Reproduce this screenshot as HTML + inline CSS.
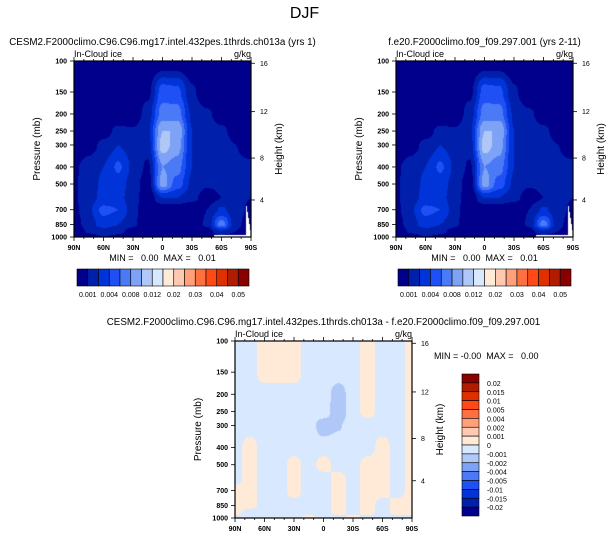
<!DOCTYPE html>
<html><head><meta charset="utf-8">
<style>
html,body{margin:0;padding:0;background:#fff;}
#wrap{position:relative;width:609px;height:538px;overflow:hidden;font-family:"Liberation Sans",sans-serif;}
canvas{position:absolute;}
svg{position:absolute;left:0;top:0;}
text{white-space:pre;}
</style></head>
<body>
<div id="wrap">
<canvas id="c1" width="177" height="176" style="left:74px;top:61px"></canvas>
<canvas id="c2" width="177" height="176" style="left:396px;top:61px"></canvas>
<canvas id="c3" width="177" height="177" style="left:235px;top:341px"></canvas>
<svg id="svg" width="609" height="538"></svg>
</div>
<script>
// ---- data ----
const lats = [90,75,60,45,30,15,0,-15,-30,-45,-60,-75,-90];
const levels = [100,150,200,250,300,400,500,600,700,850,925,1000];
const fieldA = [
 [0,0,0,0,0,0,0.2,0.2,0,0,0,0,0],
 [0,0,0,0,0,0.7,3.5,3.3,1.2,0,0,0,0],
 [0,0,0,0,0.2,1.5,4.5,4.5,1.8,1.2,0.5,0,0],
 [0,0,0.5,1.3,1.1,1.8,6,6,2,1.5,1.2,0.6,0],
 [0,0.5,1.3,2,1.5,1.5,6.5,5.5,2,1.5,1.3,1,0.3],
 [0.8,1.5,2,3.2,1.8,0.8,5,4.5,2,1.5,1.3,1.2,1.3],
 [0.9,1.5,2.2,2.5,1.6,0.3,5.5,3.5,1.8,1.1,1.2,1.2,1.3],
 [0.9,1.6,2.3,2.3,1.5,0.2,2,2,1.3,0.5,1,1.2,1],
 [0.7,1.8,3.3,3,1.4,0,0,0,0,1,2.2,1.3,0.8],
 [0.5,1.5,2.5,2,1.2,0,0,0,0,1.2,4.5,1.2,0.5],
 [0,1.2,1.5,1.3,0.6,0,0,0,0,0.5,2,1,0],
 [0,0.6,1,0.8,0.2,0,0,0,0,0,0.5,0.3,0]
];
const fieldB = fieldA.map(r=>r.slice());
const fieldDiff = [
 [-1,-1,0,0,0,-1,-1,-1,-1,0,-1,-1,0],
 [-1,-1,0,0,0,-1,-1,-1,-1,0,-1,-1,0],
 [-1,-1,-1,-1,-1,-1,-1,-2,-1,0,-1,-1,0],
 [-1,-1,-1,-1,-1,-1,-1,-2.2,-1,0,-1,-1,0],
 [-1,-1,-1,-1,-1,-1,-2,-1.6,-1,-1,-1,-1,0],
 [-1,0,-1,-1,-1,-1,-1,-1,-1,-1,0,-1,0],
 [-1,0,-1,-1,0,-1,0,-1,-1,0,0,-1,0],
 [-1,0,-1,-1,0,-1,-1,0,-1,0,0,-1,0],
 [0,0,-1,-1,0,-1,-1,0,-1,0,0,-1,0],
 [0,0,-1,-1,-1,-1,-1,0,-1,0,-1,0,0],
 [0,-1,-1,-1,-1,-1,-1,0,-1,0,-1,0,0],
 [-1,-1,-1,-1,-1,0,-1,-1,0,-1,-1,-1,-1]
];
const colors = ["#00008c","#0020ac","#0034d8","#1e50f5","#4a7af5","#7ea2f5","#b0c8f8","#d8e8ff","#ffead8","#ffc8b0","#ffa07a","#ff7040","#ff4a18","#e03000","#b01c00","#880000"];
const topCbLabels = ["0.001","0.004","0.008","0.012","0.02","0.03","0.04","0.05"];
const diffCbLabels = ["0.02","0.015","0.01","0.005","0.004","0.002","0.001","0","-0.001","-0.002","-0.004","-0.005","-0.01","-0.015","-0.02"];
const pTicks = [100,150,200,250,300,400,500,700,850,1000];
const hTicks = [4,8,12,16];
const hTickP = [616,356,194,103];
const xTickLats = [90,60,30,0,-30,-60,-90];
const xTickLabels = ["90N","60N","30N","0","30S","60S","90S"];

// ---- helpers ----
const NS="http://www.w3.org/2000/svg";
const svg=document.getElementById('svg');
function el(tag,attrs,parent){const e=document.createElementNS(NS,tag);for(const k in attrs)e.setAttribute(k,attrs[k]);(parent||svg).appendChild(e);return e;}
function txt(x,y,s,size,anchor,extra){const t=el('text',Object.assign({x:x,y:y,'font-size':size,'text-anchor':anchor||'middle','font-family':'Liberation Sans, sans-serif',fill:'#000'},extra||{}));t.textContent=s;return t;}
function xs(ox,w){return lat=>ox+(90-lat)/180*w;}
function ys(oy,h){return p=>oy+(Math.log10(p)-2)*h;}

function smooth(t){return t*t*(3-2*t);}
function sample(grid,fx,fy){
  const i0=Math.max(0,Math.min(lats.length-2,Math.floor(fx))),j0=Math.max(0,Math.min(levels.length-2,Math.floor(fy)));
  const tx=smooth(Math.min(1,Math.max(0,fx-i0))),ty=smooth(Math.min(1,Math.max(0,fy-j0)));
  const a=grid[j0][i0],b=grid[j0][i0+1],c=grid[j0+1][i0],d=grid[j0+1][i0+1];
  return (a*(1-tx)+b*tx)*(1-ty)+(c*(1-tx)+d*tx)*ty;
}
function levelIndex(p){const lp=Math.log10(p);for(let j=0;j<levels.length-1;j++){const a=Math.log10(levels[j]),b=Math.log10(levels[j+1]);if(lp<=b)return j+(lp-a)/(b-a);}return levels.length-1;}
function hex(c){return [parseInt(c.substr(1,2),16),parseInt(c.substr(3,2),16),parseInt(c.substr(5,2),16)];}
function fillCanvas(id,grid,colorOf,missing){
  const cv=document.getElementById(id),ctx=cv.getContext('2d'),W=cv.width,H=cv.height;
  const img=ctx.createImageData(W,H);
  for(let y=0;y<H;y++){const p=Math.pow(10,2+(y+0.5)/H);const fy=levelIndex(p);
    for(let x=0;x<W;x++){const lat=90-(x+0.5)/W*180;const fx=(90-lat)/15;
      let c=hex(colorOf(sample(grid,fx,fy)));
      if(missing&&((x>W-6&&y>H-(W-x)*6-2)||(y>H-3&&x>W-38))) c=[255,255,255];
      const k=(y*W+x)*4;img.data[k]=c[0];img.data[k+1]=c[1];img.data[k+2]=c[2];img.data[k+3]=255;}}
  ctx.putImageData(img,0,0);
}
function frame(ox,oy,w,h,name,titleStr,mm){
  const X=xs(ox,w),Y=ys(oy,h);
  const g=el('g',{});
  
  
  el('rect',{x:ox,y:oy,width:w,height:h,fill:'none',stroke:'#000','stroke-width':1.2},g);
  pTicks.forEach(p=>{const y=Y(p);el('line',{x1:ox-4,y1:y,x2:ox,y2:y,stroke:'#000','stroke-width':0.8},g);
    const t=txt(ox-7,y+2.5,String(p),7,'end',{'font-weight':'bold'});g.appendChild(t);});
  hTicks.forEach((hk,i)=>{const y=Y(hTickP[i]);el('line',{x1:ox+w,y1:y,x2:ox+w+4,y2:y,stroke:'#000','stroke-width':0.8},g);
    const t=txt(ox+w+9,y+2.5,String(hk),7,'start');g.appendChild(t);});
  for(let lat=90;lat>=-90;lat-=10){const x=X(lat);const big=lat%30===0;
    el('line',{x1:x,y1:oy+h,x2:x,y2:oy+h+(big?4:2),stroke:'#000','stroke-width':0.8},g);
    el('line',{x1:x,y1:oy,x2:x,y2:oy-(big?4:2),stroke:'#000','stroke-width':0.8},g);}
  xTickLats.forEach((lat,i)=>{const t=txt(X(lat),oy+h+13,xTickLabels[i],7,'middle',{'font-weight':'bold'});g.appendChild(t);});
  const yl=txt(0,0,'Pressure (mb)',10,'middle',{transform:`translate(${ox-34},${oy+h/2}) rotate(-90)`});
  const hl=txt(0,0,'Height (km)',10,'middle',{transform:`translate(${ox+w+31},${oy+h/2}) rotate(-90)`});
  const l=txt(ox,oy-4,'In-Cloud ice',9,'start');
  const u=txt(ox+w,oy-4,'g/kg',9,'end');
  const tt=txt(ox+w/2,oy-16,titleStr,9.8,'middle');
  if(mm){const m=txt(ox+w/2,oy+h+24,'MIN =   0.00  MAX =   0.01',9,'middle');}
}
function hCbar(x0,y0,w,h,name){
  const g=el('g',{});
  const bw=w/colors.length;
  colors.forEach((c,i)=>{el('rect',{x:x0+i*bw,y:y0,width:bw,height:h,fill:c,stroke:'#000','stroke-width':0.6},g);});
  topCbLabels.forEach((s,i)=>{const t=txt(x0+(2*i+1)*bw,y0+h+11,s,7,'middle');g.appendChild(t);});
}

// ---- draw ----
const topColor=v=>colors[Math.max(0,Math.min(7,Math.floor(v)))];
const diffColor=v=>v>=-0.5?colors[8]:(v>=-1.5?colors[7]:colors[6]);
fillCanvas('c1',fieldA,topColor,true);
fillCanvas('c2',fieldB,topColor,true);
fillCanvas('c3',fieldDiff,diffColor,false);

const t=txt(304.5,18,'DJF',16,'middle');
frame(74,61,177,176,'panel-control','CESM2.F2000climo.C96.C96.mg17.intel.432pes.1thrds.ch013a (yrs 1)',true);
frame(396,61,177,176,'panel-test','f.e20.F2000climo.f09_f09.297.001 (yrs 2-11)',true);
frame(235,341,177,177,'panel-diff','CESM2.F2000climo.C96.C96.mg17.intel.432pes.1thrds.ch013a - f.e20.F2000climo.f09_f09.297.001',false);
hCbar(77,269,172,17,'colorbar-control');
hCbar(398,269,173,17,'colorbar-test');
const dm=txt(434,359,'MIN = -0.00  MAX =   0.00',9,'start');

(function(){const g=el('g',{});
 const x0=462,y0=374,w=17,H=142,bh=H/colors.length;
 colors.slice().reverse().forEach((c,i)=>{el('rect',{x:x0,y:y0+i*bh,width:w,height:bh,fill:c,stroke:'#000','stroke-width':0.6},g);});
 diffCbLabels.forEach((s,i)=>{const tt=txt(x0+w+8,y0+(i+1)*bh+3,s,7,'start');g.appendChild(tt);});
})();
</script>
</body></html>
